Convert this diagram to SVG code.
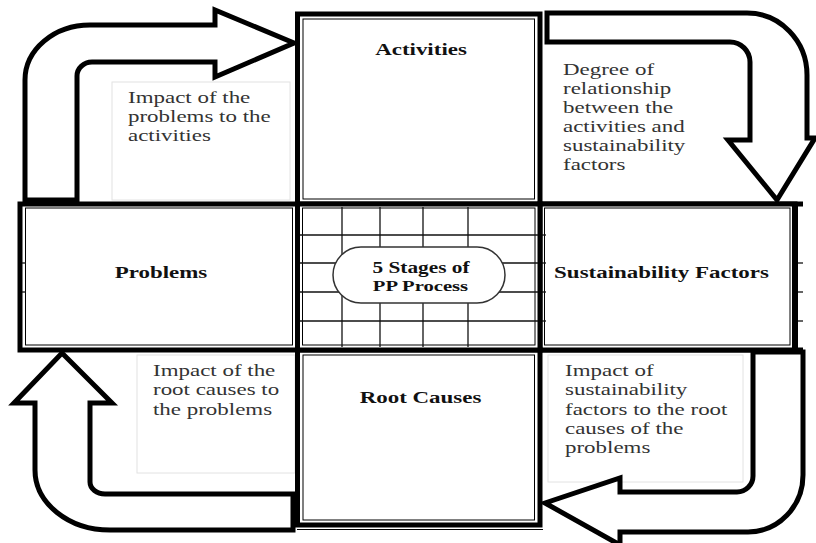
<svg xmlns="http://www.w3.org/2000/svg" width="816" height="543" viewBox="0 0 816 543">
<defs>
<style>
.arrow{fill:#fff;stroke:#000;stroke-width:5;stroke-linejoin:miter}
.box{fill:#fff;stroke:#000;stroke-width:5}
.inner{fill:none;stroke:#000;stroke-width:1}
.grid{stroke:#111;stroke-width:1.3;fill:none}
.lbox{fill:#fff;stroke:#e2e2e2;stroke-width:1}
.t{font-family:"Liberation Serif","Times New Roman",serif;font-size:17px;fill:#333}
.b{font-family:"Liberation Serif","Times New Roman",serif;font-size:17px;font-weight:bold;fill:#111;text-anchor:middle}
</style>
</defs>
<rect width="816" height="543" fill="#fff"/>

<g id="label-boxes">
<rect class="lbox" x="112" y="82" width="178" height="118"/>
<rect class="lbox" x="137" y="355" width="158" height="118"/>
<rect class="lbox" x="548" y="355" width="195" height="127"/>
</g>

<g id="connectors">
<path class="arrow" d="M25,200 L25,80 A65,55 0 0 1 90,25 L215,25 L215,10 L294,43 L215,77 L215,62 L92,62 A15,14 0 0 0 77,76 L77,200 Z"/>
<path class="arrow" d="M547,13 L747,13 A60,62 0 0 1 807,75 L807,138 L815,138 L777,200 L728,140 L750,140 L750,62 A20,20 0 0 0 730,42 L547,42 Z"/>
<path class="arrow" d="M753,352 L803,352 L803,475 A55,57 0 0 1 748,532 L620,532 L620,545 L545,503 L620,478 L620,492 L737,492 A16,16 0 0 0 753,476 Z"/>
<path class="arrow" d="M293,494 L105,494 A15,12 0 0 1 90,482 L90,403 L112,403 L62,353 L14,403 L35,403 L35,470 A75,60 0 0 0 110,530 L293,530 Z"/>
</g>

<g id="activities">
<rect class="box" x="297.5" y="14" width="242.5" height="190"/>
<rect class="inner" x="303" y="19" width="231.5" height="180"/>
<text class="b" transform="translate(421 55) scale(1.35 1)">Activities</text>
</g>

<g id="problems">
<rect class="box" x="20" y="204" width="277.5" height="146"/>
<rect class="inner" x="25.5" y="208" width="267" height="137"/>
<line class="grid" x1="22" y1="263" x2="26" y2="263"/>
<line class="grid" x1="22" y1="292" x2="26" y2="292"/>
<text class="b" transform="translate(161 278) scale(1.35 1)">Problems</text>
</g>

<g id="sustainability-factors">
<line x1="540" y1="204" x2="803" y2="204" stroke="#000" stroke-width="5"/>
<line x1="540" y1="350" x2="803" y2="350" stroke="#000" stroke-width="5"/>
<rect class="box" x="540" y="204" width="255" height="146"/>
<line x1="795" y1="204" x2="795" y2="352" stroke="#000" stroke-width="6"/>
<rect class="inner" x="544.5" y="208" width="245.5" height="137"/>
<line class="grid" x1="542" y1="235" x2="546" y2="235"/>
<line class="grid" x1="542" y1="263" x2="546" y2="263"/>
<line class="grid" x1="542" y1="292" x2="546" y2="292"/>
<line class="grid" x1="542" y1="321" x2="546" y2="321"/>
<line class="grid" x1="798" y1="263" x2="803" y2="263"/>
<line class="grid" x1="798" y1="292" x2="803" y2="292"/>
<line class="grid" x1="798" y1="321" x2="803" y2="321"/>
<text class="b" transform="translate(661.5 278) scale(1.35 1)">Sustainability Factors</text>
</g>

<g id="root-causes">
<rect class="box" x="297.5" y="350" width="242.5" height="175"/>
<rect class="inner" x="303" y="355" width="231.5" height="165"/>
<line x1="297" y1="529.5" x2="543" y2="529.5" stroke="#000" stroke-width="1"/>
<text class="b" transform="translate(420.5 403) scale(1.35 1)">Root Causes</text>
</g>

<g id="center">
<rect class="box" x="297.5" y="204" width="242.5" height="146"/>
<rect class="inner" x="302.5" y="208" width="232.5" height="137"/>
<g class="grid">
<line x1="342" y1="207" x2="342" y2="347"/>
<line x1="380" y1="207" x2="380" y2="347"/>
<line x1="423" y1="207" x2="423" y2="347"/>
<line x1="468" y1="207" x2="468" y2="347"/>
<line x1="300" y1="235" x2="538" y2="235"/>
<line x1="300" y1="263" x2="538" y2="263"/>
<line x1="300" y1="292" x2="538" y2="292"/>
<line x1="300" y1="321" x2="538" y2="321"/>
</g>
<rect x="333" y="247" width="172" height="56" rx="28" ry="28" fill="#fff" stroke="#333" stroke-width="1.5"/>
<text class="b" style="font-size:15.8px" transform="translate(421 273) scale(1.35 1)">5 Stages of</text>
<text class="b" style="font-size:15.3px" transform="translate(420.5 291) scale(1.35 1)">PP Process</text>
</g>

<g id="connector-labels">
<g transform="translate(128 0) scale(1.35 1)">
<text class="t" x="0" y="103">Impact of the</text>
<text class="t" x="0" y="122">problems to the</text>
<text class="t" x="0" y="141">activities</text>
</g>
<g transform="translate(563 0) scale(1.35 1)">
<text class="t" x="0" y="75">Degree of</text>
<text class="t" x="0" y="94">relationship</text>
<text class="t" x="0" y="113">between the</text>
<text class="t" x="0" y="132">activities and</text>
<text class="t" x="0" y="151">sustainability</text>
<text class="t" x="0" y="170">factors</text>
</g>
<g transform="translate(153 0) scale(1.35 1)">
<text class="t" x="0" y="376">Impact of the</text>
<text class="t" x="0" y="395">root causes to</text>
<text class="t" x="0" y="415">the problems</text>
</g>
<g transform="translate(565 0) scale(1.35 1)">
<text class="t" x="0" y="376">Impact of</text>
<text class="t" x="0" y="395">sustainability</text>
<text class="t" x="0" y="415">factors to the root</text>
<text class="t" x="0" y="434">causes of the</text>
<text class="t" x="0" y="453">problems</text>
</g>
</g>
</svg>
